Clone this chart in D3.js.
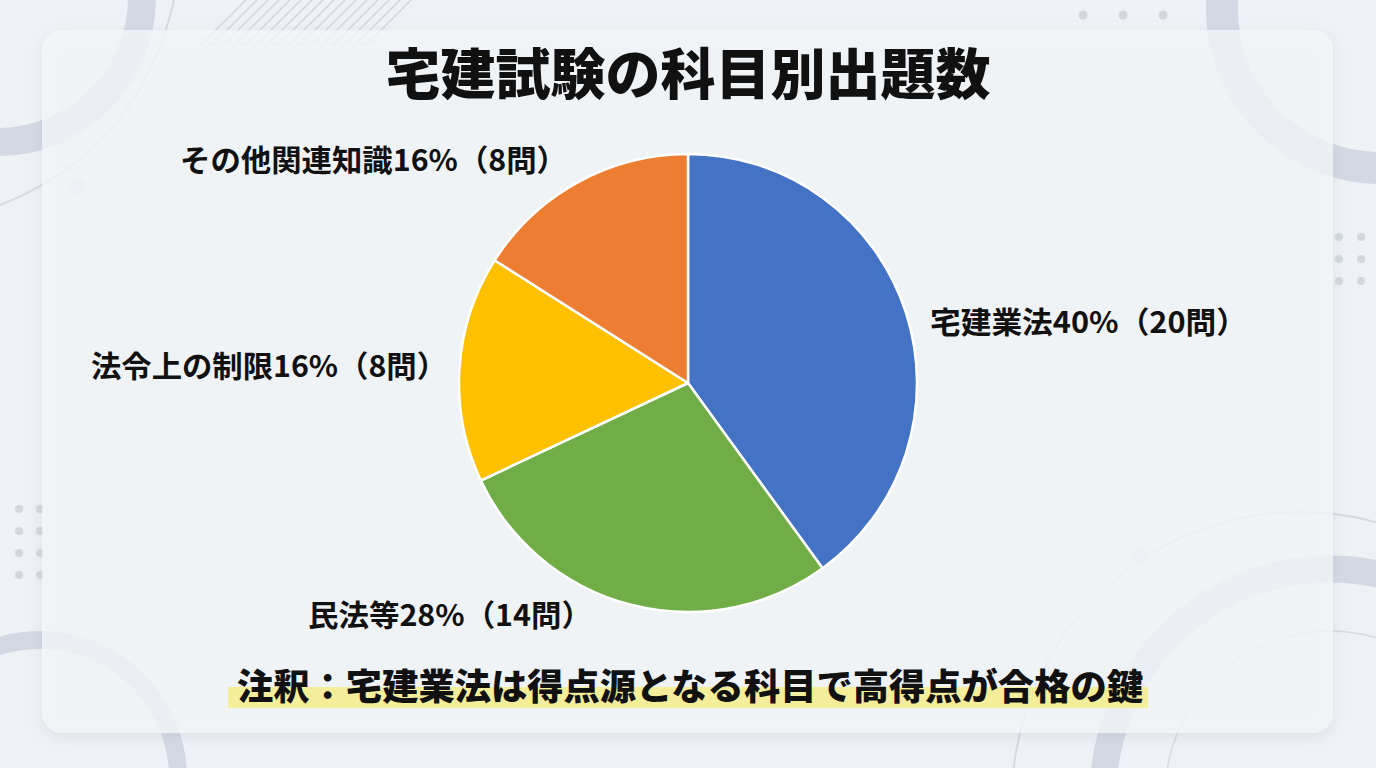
<!DOCTYPE html>
<html><head><meta charset="utf-8">
<script src="https://cdn.jsdelivr.net/npm/d3@7"></script>
<style>
html,body{margin:0;padding:0;background:#eef1f5;}
svg{display:block;}
text{font-family:"Noto Sans CJK JP","Noto Sans",sans-serif;}
</style></head>
<body>
<svg id="chart" width="1376" height="768"></svg>
<script>
// ---- data ----
const categories = ["宅建業法", "民法等", "法令上の制限", "その他関連知識"];
const questions = [20, 14, 8, 8];
const percents = [40, 28, 16, 16];
const colors = ["#4472C4", "#70AD47", "#FFC000", "#ED7D31"];
const titleText = "宅建試験の科目別出題数";
const noteText = "注釈：宅建業法は得点源となる科目で高得点が合格の鍵";

// ---- layout (positions kept separate from data) ----
const W = 1376, H = 768;
const cx = 688, cy = 383, R = 229;
const labelLayout = [
  {x: 930, y: 320, w: 303},
  {x: 308, y: 613, w: 270},
  {x: 91,  y: 364, w: 342},
  {x: 180, y: 158, w: 373}
];

const svg = d3.select("#chart");
const defs = svg.append("defs");
const f = defs.append("filter").attr("id","shadow").attr("x","-5%").attr("y","-5%").attr("width","110%").attr("height","115%");
f.append("feDropShadow").attr("dx",0).attr("dy",4).attr("stdDeviation",7).attr("flood-color","#8a94a6").attr("flood-opacity",0.22);

// background
svg.append("rect").attr("width",W).attr("height",H).attr("fill","#eef1f5");

const deco = svg.append("g");
const ringCol = "#d3d9e2", thinCol = "#d6dbe3";
function ring(x,y,r,w){ deco.append("circle").attr("cx",x).attr("cy",y).attr("r",r).attr("fill","none").attr("stroke",ringCol).attr("stroke-width",w); }
function arcLine(x,y,r,a0,a1,w){
  const p = d3.arc()({innerRadius:r, outerRadius:r, startAngle:a0, endAngle:a1});
  deco.append("path").attr("d",p).attr("transform",`translate(${x},${y})`).attr("fill","none").attr("stroke",thinCol).attr("stroke-width",w);
}
function dot(x,y,r,c){ deco.append("circle").attr("cx",x).attr("cy",y).attr("r",r).attr("fill",c||"#d8dde4"); }

// top-left
ring(-2,-2,144,28);
deco.append("path").attr("d","M174,0 Q140,150 0,205").attr("fill","none").attr("stroke",thinCol).attr("stroke-width",2);
dot(77,186,8);
// hatch
for(let i=0;i<16;i++){
  const x0 = 200 + i*11;
  deco.append("line").attr("x1",x0).attr("y1",46).attr("x2",x0+46).attr("y2",0).attr("stroke","#d0d6de").attr("stroke-width",1.5);
}
// top-right
ring(1380,10,158,32);
[1083,1123,1163].forEach(x=>dot(x,15,4.5,"#d3d8df"));
[237,259,281].forEach(y=>{dot(1339,y,4,"#d3d8df");dot(1361,y,4,"#d3d8df");});
// bottom-left
ring(40,778,138,18);
[509,531,553,575].forEach(y=>{dot(19,y,4,"#d3d8df");dot(40,y,4,"#d3d8df");});
// bottom-right
ring(1330,796,227,27);
arcLine(1300,800,288,-Math.PI*0.62,Math.PI*0.2,2);
dot(1140,556,8);
arcLine(1330,796,165,-Math.PI*0.56,Math.PI*0.1,1.5);
arcLine(1330,800,305,-Math.PI*0.60,-Math.PI*0.48,1.5);
arcLine(1330,800,278,-Math.PI*0.63,-Math.PI*0.47,1.5);

// card
svg.append("rect").attr("x",42).attr("y",30).attr("width",1291).attr("height",703).attr("rx",20)
  .attr("fill","rgba(244,247,250,0.78)").attr("filter","url(#shadow)");

// title
svg.append("text").attr("x",W/2).attr("y",70).attr("text-anchor","middle").attr("dominant-baseline","central")
  .attr("font-size",55).attr("font-weight",900).attr("fill","#111").text(titleText);

// pie
const pie = d3.pie().sort(null).value(d=>d.v);
const arcGen = d3.arc().innerRadius(0).outerRadius(R);
const data = categories.map((c,i)=>({c, v:questions[i], p:percents[i], col:colors[i]}));
const g = svg.append("g").attr("transform",`translate(${cx},${cy})`);
g.selectAll("path").data(pie(data)).join("path")
  .attr("d",arcGen).attr("fill",d=>d.data.col).attr("stroke","#ffffff").attr("stroke-width",2.5).attr("stroke-linejoin","round");

// labels
svg.append("g").selectAll("text").data(data).join("text")
  .attr("x",(d,i)=>labelLayout[i].x).attr("y",(d,i)=>labelLayout[i].y)
  .attr("dominant-baseline","central").attr("font-size",30).attr("font-weight",700).attr("fill","#111")
  .attr("textLength",(d,i)=>labelLayout[i].w+14).attr("lengthAdjust","spacingAndGlyphs")
  .text(d=>`${d.c}${d.p}%（${d.v}問）`);

// note highlight + text
svg.append("rect").attr("x",228).attr("y",687).attr("width",920).attr("height",21).attr("fill","#f4ec8f").attr("opacity",0.9);
svg.append("text").attr("x",237).attr("y",684).attr("dominant-baseline","central")
  .attr("font-size",36).attr("font-weight",900).attr("fill","#111")
  .attr("textLength",906).attr("lengthAdjust","spacingAndGlyphs").text(noteText);
</script>
</body></html>
